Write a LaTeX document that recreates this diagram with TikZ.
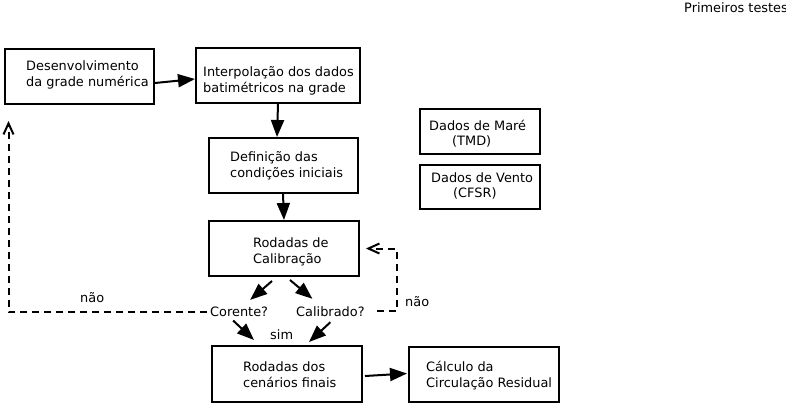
\documentclass[tikz,border=0pt]{standalone}
\usepackage{fontspec}
\setmainfont{DejaVu Sans}
\usetikzlibrary{arrows.meta,calc}
\begin{document}
\begin{tikzpicture}[x=1pt,y=-1pt,
  box/.style={draw, line width=2pt, rectangle, inner sep=0pt},
  txt/.style={inner sep=0pt, anchor=west, align=left, font=\fontsize{12.9}{16}\selectfont},
  txtb/.style={inner sep=0pt, anchor=west, align=left, font=\fontsize{12.9}{14.5}\selectfont},
  arr/.style={line width=2pt, -{Triangle[length=17pt,width=13pt]}},
  darr/.style={line width=2pt, dash pattern=on 7pt off 5pt, -{Straight Barb[length=11pt,width=10pt,line width=2pt]}},
]
\useasboundingbox (0,0) rectangle (786,404);

% boxes
\node[box, minimum width=149pt, minimum height=55pt] (b1) at (79.5,76.5) {};
\node[box, minimum width=164pt, minimum height=55pt] (b2) at (278,75.5) {};
\node[box, minimum width=149pt, minimum height=55pt] (b3) at (283,165.5) {};
\node[box, minimum width=150pt, minimum height=55pt] (b4) at (284,248.5) {};
\node[box, minimum width=150pt, minimum height=56pt] (b5) at (287,374) {};
\node[box, minimum width=150pt, minimum height=55pt] (b6) at (484,374.5) {};
\node[box, minimum width=120pt, minimum height=45pt] (tmd) at (480,131.5) {};
\node[box, minimum width=120pt, minimum height=44pt] (cfsr) at (480,187) {};

% texts
\node[txt] (t1) at (26,75) {Desenvolvimento\\da grade numérica};
\node[txt] (t2) at (203,80.5) {Interpolação dos dados\\batimétricos na grade};
\node[txt] (t3) at (230,165.5) {Definição das\\condições iniciais};
\node[txt] (t4) at (253,251.5) {Rodadas de\\Calibração};
\node[txt] (t5) at (243,374.5) {Rodadas dos\\cenários finais};
\node[txt] (t6) at (426,376) {Cálculo da\\Circulação Residual};
\node[txtb] (ttmd) at (429,133.5) {Dados de Maré\\\hspace*{23pt}(TMD)};
\node[txtb] (tcfsr) at (431,186) {Dados de Vento\\\hspace*{22pt}(CFSR)};
\node[txt] (prim) at (684,8) {Primeiros testes};

\node[txt] (cor) at (210,312) {Corente?};
\node[txt] (cal) at (296,312) {Calibrado?};
\node[txt] (nao1) at (80,298) {não};
\node[txt] (nao2) at (405,302) {não};
\node[txt] (sim) at (270,335) {sim};

% solid arrows
\draw[arr] ($(b1.east)+(0,6.5)$) -- ($(b2.west)+(0,3.5)$);
\draw[arr] (b2.south) -- ($(b3.north)+(-6,0)$);
\draw[arr] (b3.south) -- (b4.north);
\draw[arr] ($(b4.south)+(-12,4)$) -- ($(cor.north)+(11,-7)$);
\draw[arr] ($(b4.south)+(6,3)$) -- ($(cal.north)+(-18,-8)$);
\draw[arr] ($(cor.south)+(-6,3.5)$) -- ($(b5.north)+(-33,-5)$);
\draw[arr] ($(cal.south)+(0,5)$) -- ($(b5.north)+(22,-3)$);
\draw[arr] ($(b5.east)+(2,2)$) -- ($(b6.west)+(-1,-1)$);

% dashed loops
\coordinate (lbk) at (8.5,121);
\coordinate (rx) at (397,0);
\draw[darr, shorten <=3pt] (cor.west) -| (lbk);
\draw[darr, shorten <=12pt] ($(cal.east)+(0,-1.5)$) -| ($(rx |- b4.east)$) -- ($(b4.east)+(6,0)$);
\end{tikzpicture}
\end{document}
